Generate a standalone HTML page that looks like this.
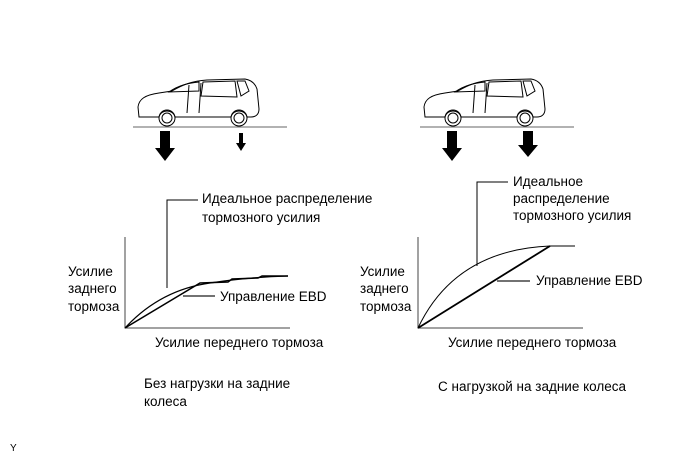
<!DOCTYPE html>
<html><head><style>
body{margin:0;background:#fff;}
svg text{font-family:"Liberation Sans",Arial,sans-serif;font-size:13.5px;fill:#000;}
</style></head><body>
<svg width="691" height="467" viewBox="0 0 691 467" xmlns="http://www.w3.org/2000/svg">
<defs>
<g id="car" fill="none" stroke="#000" stroke-width="1">
<path d="M1,28 C2,20 8,16 22,14 L35,12 C45,6 55,2 70,1 L108,0 C114,1 118,4 120,10 L122,30 C122,36 118,38 114,38 L110,38 C108,30 96,30 94,38 L38,38 C36,30 24,30 22,38 L2,38 Z"/>
<path d="M32,13 C42,6 52,4 62,3 L62,12 Z M66,3 L98,2 L100,18 L64,17 Z M100,2 L108,2 L112,12 L104,17 Z"/>
<path d="M52,6 L50,34 M64,4 L62,34"/>
<circle cx="30" cy="39" r="8"/><circle cx="30" cy="39" r="5"/>
<circle cx="102" cy="39" r="8"/><circle cx="102" cy="39" r="5"/>
</g>
</defs>
<use href="#car" transform="translate(137,79)"/>
<line x1="133" y1="127" x2="287" y2="127" stroke="#666" stroke-width="1"/>
<polygon points="160,131 170,131 170,148 175,148 165,161 155,148 160,148" fill="#000"/>
<polygon points="239,133 243,133 243,143 246,143 241,151 236,143 239,143" fill="#000"/>
<use href="#car" transform="translate(423,79)"/>
<line x1="420" y1="127" x2="574" y2="127" stroke="#666" stroke-width="1"/>
<polygon points="447,131 457,131 457,148 462,148 452,161 442,148 447,148" fill="#000"/>
<polygon points="523,131 533,131 533,145 538,145 528,157 518,145 523,145" fill="#000"/>

<g fill="none" stroke="#000">
<path d="M125,237 L125,328 L290,328" stroke="#444"/>
<path d="M125,328 Q160,290 210,283 Q250,277 288,276" stroke-width="1.2"/>
<path d="M125,328 L200,283 L228,282 L232,279 L258,278 L262,276 L288,276" stroke-width="1.5"/>
<path d="M167,288 L167,200 L198,200" />
<path d="M183,296 L215,296" stroke="#444" stroke-width="1.5"/>
</g>
<text x="202" y="203">Идеальное распределение</text>
<text x="202" y="222">тормозного усилия</text>
<text x="68" y="276">Усилие</text>
<text x="68" y="293">заднего</text>
<text x="68" y="311">тормоза</text>
<text x="220" y="301">Управление EBD</text>
<text x="155" y="347">Усилие переднего тормоза</text>
<text x="144" y="388">Без нагрузки на задние</text>
<text x="144" y="406">колеса</text>

<g fill="none" stroke="#000">
<path d="M418,237 L418,328 L583,328" stroke="#444"/>
<path d="M418,328 Q455,250 550,246 L575,246" stroke-width="1"/>
<path d="M418,328 L550,246" stroke-width="1.8"/>
<path d="M477,266 L477,182 L508,182"/>
<path d="M497,281 L530,281" stroke="#444" stroke-width="1.5"/>
</g>
<text x="513" y="186">Идеальное</text>
<text x="513" y="203">распределение</text>
<text x="513" y="220">тормозного усилия</text>
<text x="360" y="276">Усилие</text>
<text x="360" y="293">заднего</text>
<text x="360" y="311">тормоза</text>
<text x="536" y="285">Управление EBD</text>
<text x="448" y="347">Усилие переднего тормоза</text>
<text x="438" y="391">С нагрузкой на задние колеса</text>

<text x="10" y="451" style="font-size:10px">Y</text>
</svg>
</body></html>
